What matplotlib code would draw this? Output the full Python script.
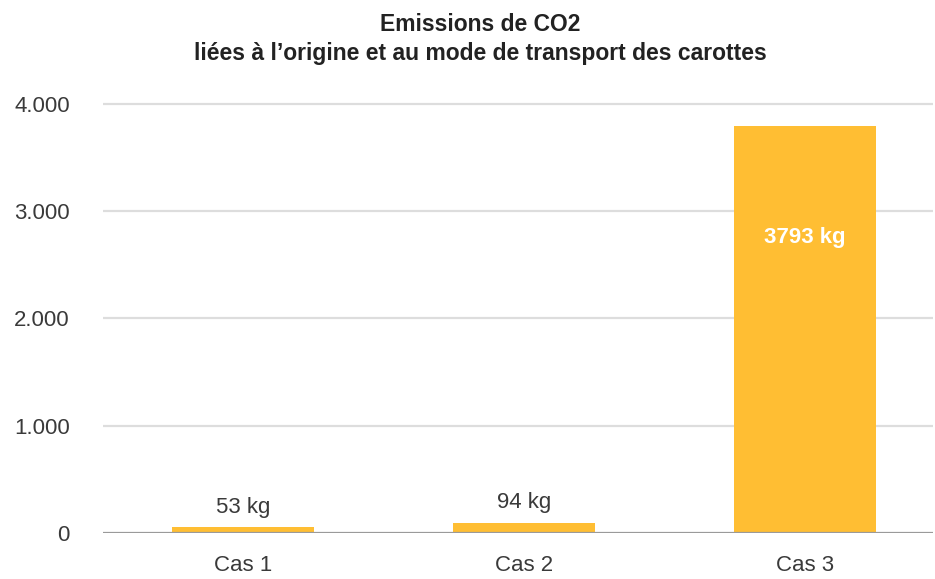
import matplotlib.pyplot as plt
from matplotlib.ticker import FuncFormatter

plt.rcParams['font.family'] = ['Liberation Sans', 'DejaVu Sans']

cas = ['Cas 1', 'Cas 2', 'Cas 3']
emissions = [53, 94, 3793]
y_ticks = [0, 1000, 2000, 3000, 4000]
title_l1 = 'Emissions de CO2'
title_l2 = 'liées à l\u2019origine et au mode de transport des carottes'

bar_color = '#FFBE33'

fig = plt.figure(figsize=(9.35, 5.79), dpi=100)
ax = fig.add_axes([103 / 935, 46 / 579, 830 / 935, 433 / 579])

x = list(range(len(cas)))
ax.bar(x, emissions, width=0.505, color=bar_color, zorder=2)

# grid + baseline
for t in y_ticks[1:]:
    ax.axhline(t, color='#dddddd', lw=1.6, zorder=1)
ax.axhline(0, color='#9a9a9a', lw=1.6, zorder=3)

ax.set_xlim(-0.497, 2.455)
ax.set_ylim(0, 4037)
ax.set_yticks(y_ticks)
ax.yaxis.set_major_formatter(FuncFormatter(lambda v, p: f'{v:,.0f}'.replace(',', '.')))
ax.set_xticks(x)
ax.set_xticklabels(cas)
ax.tick_params(axis='both', length=0, labelsize=16, colors='#3a3a3a')
ax.tick_params(axis='y', pad=24)
ax.tick_params(axis='x', pad=16)
for s in ax.spines.values():
    s.set_visible(False)

# value labels
for xi, v in zip(x, emissions):
    if v > 1000:
        ax.annotate(f'{v} kg', (xi, v), xytext=(0, -80), textcoords='offset points',
                    ha='center', va='center', fontsize=16, fontweight='bold',
                    color='white', zorder=4)
    else:
        ax.annotate(f'{v} kg', (xi, v), xytext=(0, 7), textcoords='offset points',
                    ha='center', va='bottom', fontsize=16, color='#3a3a3a', zorder=4)

fig.text(480 / 935, 1 - 31 / 579, title_l1, ha='center', va='baseline',
         fontsize=16.5, fontweight='bold', color='#222222')
fig.text(480 / 935, 1 - 60 / 579, title_l2, ha='center', va='baseline',
         fontsize=16.5, fontweight='bold', color='#222222')

fig.savefig('out.png', dpi=100)
